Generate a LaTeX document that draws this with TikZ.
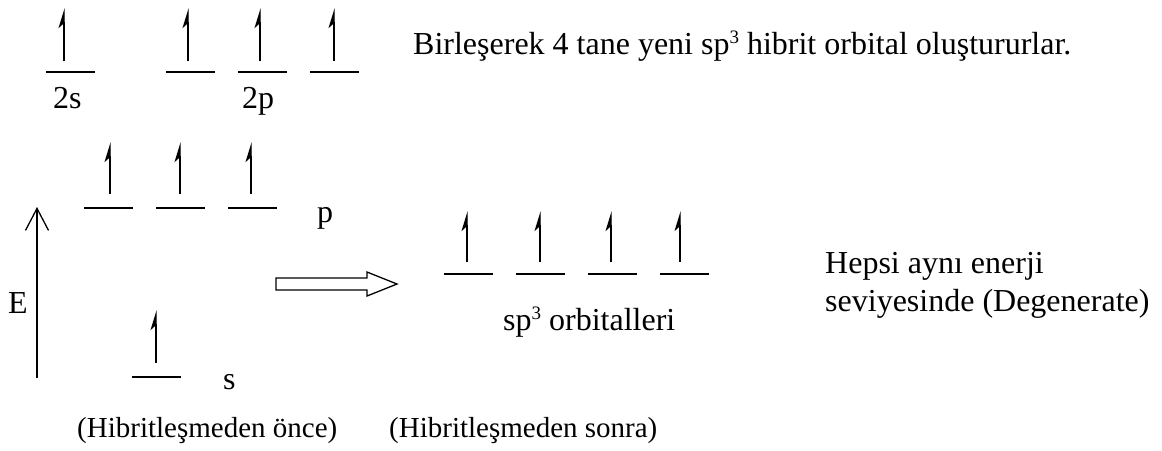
\documentclass[tikz,border=0pt]{standalone}
\usepackage{fontspec}
\setmainfont{Liberation Serif}
\usetikzlibrary{arrows.meta}

% superscript as set in the running text
\newcommand{\up}[1]{\raisebox{0.34em}{\fontsize{19}{19}\selectfont #1}}

\tikzset{
  level/.style={line width=1.3pt},
  spin/.style={line width=1.3pt,-{Stealth[left,length=18pt,width=11pt,inset=5pt]}},
  axis/.style={line width=1.3pt,-{Straight Barb[length=22pt,width=23pt]}},
  txt/.style={inner sep=0pt,anchor=base west,font=\fontsize{32}{38}\selectfont},
  caption/.style={txt,font=\fontsize{29}{34}\selectfont},
}

\begin{document}
\begin{tikzpicture}[x=1pt,y=-1pt]
\useasboundingbox (0,0) rectangle (1162,450);

% 2s and 2p, before
\foreach \x/\a in {70.5/64,190.5/188,262.5/260,334.5/334}{
  \draw[level] (\x-24.5,72) -- (\x+24.5,72);
  \draw[spin] (\a,61) -- (\a,8);
}
\node[txt] (l2s) at (53,108) {2s};
\node[txt] (l2p) at (242,108) {2p};
\node[txt] (birles) at (413,54) {Birleşerek 4 tane yeni sp\up{3} hibrit orbital oluştururlar.};

% p levels
\foreach \x/\a in {108.5/110,180.5/180,252.5/251}{
  \draw[level] (\x-24.5,208) -- (\x+24.5,208);
  \draw[spin] (\a,194) -- (\a,142);
}
\node[txt] (lp) at (317,222) {p};

% s level
\draw[level] (132,377) -- (181,377);
\draw[spin] (156,363) -- (156,310);
\node[txt] (ls) at (223,389) {s};

% energy axis
\coordinate (Ebot) at (37,378);
\coordinate (Etop) at (37,207);
\draw[axis] (Ebot) -- (Etop);
\node[txt] (E) at (8,313) {E};

% hollow arrow
\draw[line width=1.3pt] (276,278) -- (367,278) -- (367,272) -- (397,284)
  -- (367,296) -- (367,290) -- (276,290) -- cycle;

% sp3 levels, after
\foreach \x/\a in {468.5/467,540.5/540,612.5/611,684.5/680}{
  \draw[level] (\x-24.5,274) -- (\x+24.5,274);
  \draw[spin] (\a,262) -- (\a,211);
}
\node[txt] (lsp3) at (503,330) {sp\up{3} orbitalleri};

\node[txt] (hepsi) at (825,273) {Hepsi aynı enerji};
\node[txt] (seviye) at (825,311) {seviyesinde (Degenerate)};

\node[caption] (once) at (77,437) {(Hibritleşmeden önce)};
\node[caption] (sonra) at (389,437) {(Hibritleşmeden sonra)};
\end{tikzpicture}
\end{document}
